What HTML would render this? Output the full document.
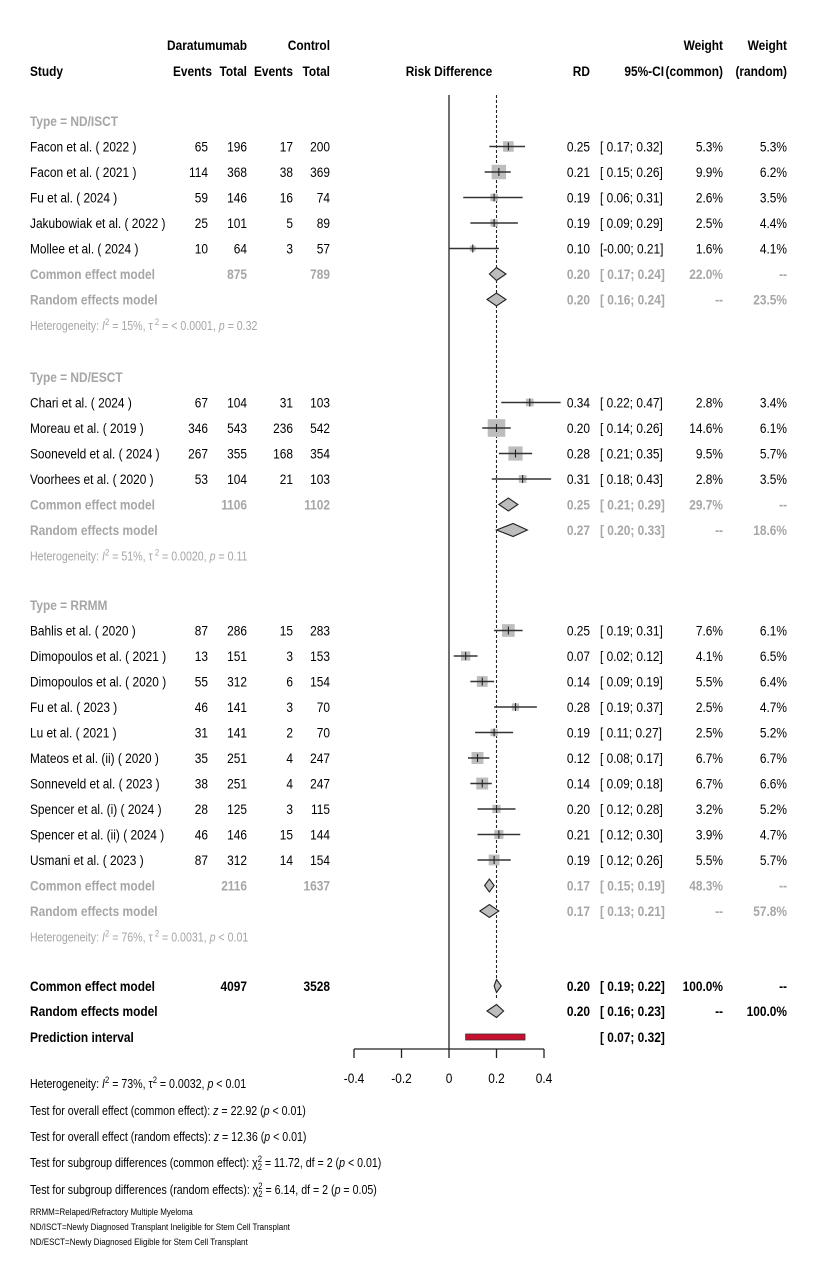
<!DOCTYPE html>
<html><head><meta charset="utf-8"><style>
html,body{margin:0;padding:0;background:#fff}
svg{display:block;font-family:"Liberation Sans",Arial,sans-serif}
</style></head><body>
<svg id="c" width="823" height="1263" xmlns="http://www.w3.org/2000/svg"></svg>
<script>
const studies = ["Facon et al. ( 2022 )","Facon et al. ( 2021 )","Fu et al. ( 2024 )","Jakubowiak et al. ( 2022 )","Mollee et al. ( 2024 )",
"Chari et al. ( 2024 )","Moreau et al. ( 2019 )","Sooneveld et al. ( 2024 )","Voorhees et al. ( 2020 )",
"Bahlis et al. ( 2020 )","Dimopoulos et al. ( 2021 )","Dimopoulos et al. ( 2020 )","Fu et al. ( 2023 )","Lu et al. ( 2021 )","Mateos et al. (ii) ( 2020 )","Sonneveld et al. ( 2023 )","Spencer et al. (i) ( 2024 )","Spencer et al. (ii) ( 2024 )","Usmani et al. ( 2023 )"];
const groupOf = [0,0,0,0,0,1,1,1,1,2,2,2,2,2,2,2,2,2,2];
const eventsT = [65,114,59,25,10,67,346,267,53,87,13,55,46,31,35,38,28,46,87];
const totalT = [196,368,146,101,64,104,543,355,104,286,151,312,141,141,251,251,125,146,312];
const eventsC = [17,38,16,5,3,31,236,168,21,15,3,6,3,2,4,4,3,15,14];
const totalC = [200,369,74,89,57,103,542,354,103,283,153,154,70,70,247,247,115,144,154];
const rd = [0.25,0.21,0.19,0.19,0.10,0.34,0.20,0.28,0.31,0.25,0.07,0.14,0.28,0.19,0.12,0.14,0.20,0.21,0.19];
const lo = [0.17,0.15,0.06,0.09,-0.00,0.22,0.14,0.21,0.18,0.19,0.02,0.09,0.19,0.11,0.08,0.09,0.12,0.12,0.12];
const hi = [0.32,0.26,0.31,0.29,0.21,0.47,0.26,0.35,0.43,0.31,0.12,0.19,0.37,0.27,0.17,0.18,0.28,0.30,0.26];
const wCommon = [5.3,9.9,2.6,2.5,1.6,2.8,14.6,9.5,2.8,7.6,4.1,5.5,2.5,2.5,6.7,6.7,3.2,3.9,5.5];
const wRandom = [5.3,6.2,3.5,4.4,4.1,3.4,6.1,5.7,3.5,6.1,6.5,6.4,4.7,5.2,6.7,6.6,5.2,4.7,5.7];
const groupNames = ["Type = ND/ISCT","Type = ND/ESCT","Type = RRMM"];
const grpTotT = [875,1106,2116];
const grpTotC = [789,1102,1637];
const grpCommon = [[0.20,0.17,0.24],[0.25,0.21,0.29],[0.17,0.15,0.19]];
const grpRandom = [[0.20,0.16,0.24],[0.27,0.20,0.33],[0.17,0.13,0.21]];
const grpWC = ["22.0%","29.7%","48.3%"];
const grpWR = ["23.5%","18.6%","57.8%"];
const grpHet = [["15%","< 0.0001","= 0.32"],["51%","0.0020","= 0.11"],["76%","0.0031","< 0.01"]];
const overallCommon = [0.20,0.19,0.22];
const overallRandom = [0.20,0.16,0.23];
const predInt = [0.07,0.32];
const ticks = [-0.4,-0.2,0,0.2,0.4];
const tickLabels = ["-0.4","-0.2","0","0.2","0.4"];

const svg = document.getElementById('c');
const NS = "http://www.w3.org/2000/svg";
const X0 = 449, SCALE = 237.5;
const xs = v => X0 + v*SCALE;
const SX = 0.85;
const C1=208, C2=247, C3=293, C4=330;
function el(tag, attrs, parent){const e=document.createElementNS(NS,tag);for(const k in attrs)e.setAttribute(k,attrs[k]);(parent||svg).appendChild(e);return e;}
function txt(s,x,y,opt){opt=opt||{};
  const t=el('text',{transform:`translate(${x},${y}) scale(${opt.sx||SX},1)`,'font-size':opt.fs||14,fill:opt.fill||'#000','text-anchor':opt.anchor||'start','font-weight':opt.bold?'bold':'normal'});
  t.textContent=s;
  
  
  return t;}
const f2 = v => (v<0||Object.is(v,-0)?'-':' ')+Math.abs(v).toFixed(2);
const ci = (a,b) => `[${f2(a)};${f2(b)}]`;

txt("Daratumumab",C2,50,{bold:true,anchor:'end',name:'header-daratumumab'});
txt("Control",C4,50,{bold:true,anchor:'end',name:'header-control'});
txt("Weight",723,50,{bold:true,anchor:'end',name:'header-weight-common'});
txt("Weight",787,50,{bold:true,anchor:'end',name:'header-weight-random'});
txt("Study",30,76,{bold:true,name:'header-study'});
txt("Events",212,76,{bold:true,anchor:'end',name:'header-events-t'});
txt("Total",C2,76,{bold:true,anchor:'end',name:'header-total-t'});
txt("Events",C3,76,{bold:true,anchor:'end',name:'header-events-c'});
txt("Total",C4,76,{bold:true,anchor:'end',name:'header-total-c'});
txt("Risk Difference",449,76,{bold:true,anchor:'middle',name:'header-risk-difference'});
txt("RD",590,76,{bold:true,anchor:'end',name:'header-rd'});
txt("95%-CI",664,76,{bold:true,anchor:'end',name:'header-ci'});
txt("(common)",723,76,{bold:true,anchor:'end',name:'header-common'});
txt("(random)",787,76,{bold:true,anchor:'end',name:'header-random'});

const zl = el('line',{x1:X0,x2:X0,y1:95,y2:1049,stroke:'#222','stroke-width':1.3});


const dl = el('line',{x1:xs(overallCommon[0]),x2:xs(overallCommon[0]),y1:95,y2:1000,stroke:'#222','stroke-width':1.1,'stroke-dasharray':'3,2'});



const GRAY='#a6a6a6';
function diamond(c,l,h,y,name){
  const p=el('polygon',{points:`${xs(l)},${y} ${xs(c)},${y-6.5} ${xs(h)},${y} ${xs(c)},${y+6.5}`,fill:'#bdbdbd',stroke:'#222','stroke-width':1.1});
  
  
}
const RH=25.5;
const groupStart=[121,377,605];
let si=0;
for(let g=0;g<3;g++){
  let y=groupStart[g];
  txt(groupNames[g],30,y+5,{fill:GRAY,bold:true,name:'group-title'});
  y+=RH;
  while(si<studies.length && groupOf[si]===g){
    const i=si;
    txt(studies[i],30,y+5,{name:'study-name'});
    txt(String(eventsT[i]),C1,y+5,{anchor:'end',name:'events-t'});
    txt(String(totalT[i]),C2,y+5,{anchor:'end',name:'total-t'});
    txt(String(eventsC[i]),C3,y+5,{anchor:'end',name:'events-c'});
    txt(String(totalC[i]),C4,y+5,{anchor:'end',name:'total-c'});
    const s=4.6*Math.sqrt(wCommon[i]);
    const b=el('rect',{x:xs(rd[i])-s/2,y:y-s/2,width:s,height:s,fill:'#bdbdbd'});
    
    
    const ln=el('line',{x1:xs(lo[i]),x2:xs(hi[i]),y1:y,y2:y,stroke:'#333','stroke-width':1.5});
    
    
    const tk=el('line',{x1:xs(rd[i]),x2:xs(rd[i]),y1:y-4,y2:y+4,stroke:'#222','stroke-width':1.1});
    
    
    txt(rd[i].toFixed(2),590,y+5,{anchor:'end',name:'rd-value'});
    txt(ci(lo[i],hi[i]),600,y+5,{name:'ci-value'});
    txt(wCommon[i].toFixed(1)+'%',723,y+5,{anchor:'end',name:'weight-common'});
    txt(wRandom[i].toFixed(1)+'%',787,y+5,{anchor:'end',name:'weight-random'});
    si++; y+=RH;
  }
  txt("Common effect model",30,y+5,{fill:GRAY,bold:true,name:'group-common-label'});
  txt(String(grpTotT[g]),C2,y+5,{fill:GRAY,bold:true,anchor:'end',name:'group-total-t'});
  txt(String(grpTotC[g]),C4,y+5,{fill:GRAY,bold:true,anchor:'end',name:'group-total-c'});
  diamond(...grpCommon[g],y,'group-common-diamond');
  txt(grpCommon[g][0].toFixed(2),590,y+5,{fill:GRAY,bold:true,anchor:'end',name:'group-common-rd'});
  txt(ci(grpCommon[g][1],grpCommon[g][2]),600,y+5,{fill:GRAY,bold:true,name:'group-common-ci'});
  txt(grpWC[g],723,y+5,{fill:GRAY,bold:true,anchor:'end',name:'group-common-weight'});
  txt("--",787,y+5,{fill:GRAY,bold:true,anchor:'end',name:'group-common-weight-r'});
  y+=RH;
  txt("Random effects model",30,y+5,{fill:GRAY,bold:true,name:'group-random-label'});
  diamond(...grpRandom[g],y,'group-random-diamond');
  txt(grpRandom[g][0].toFixed(2),590,y+5,{fill:GRAY,bold:true,anchor:'end',name:'group-random-rd'});
  txt(ci(grpRandom[g][1],grpRandom[g][2]),600,y+5,{fill:GRAY,bold:true,name:'group-random-ci'});
  txt("--",723,y+5,{fill:GRAY,bold:true,anchor:'end',name:'group-random-weight-c'});
  txt(grpWR[g],787,y+5,{fill:GRAY,bold:true,anchor:'end',name:'group-random-weight'});
  y+=RH;
  const h=txt("",30,y+5,{fill:GRAY,fs:12.5,name:'group-heterogeneity'});
  h.innerHTML=`Heterogeneity: <tspan font-style="italic">I</tspan><tspan dy="-5" font-size="9">2</tspan><tspan dy="5"> = ${grpHet[g][0]}, τ</tspan><tspan dy="-5" font-size="9"> 2</tspan><tspan dy="5"> = ${grpHet[g][1]}, </tspan><tspan font-style="italic">p</tspan> ${grpHet[g][2]}`;
}

let y=986;
txt("Common effect model",30,y+5,{bold:true,name:'overall-common-label'});
txt("4097",C2,y+5,{bold:true,anchor:'end',name:'overall-total-t'});
txt("3528",C4,y+5,{bold:true,anchor:'end',name:'overall-total-c'});
diamond(...overallCommon,y,'overall-common-diamond');
txt(overallCommon[0].toFixed(2),590,y+5,{bold:true,anchor:'end',name:'overall-common-rd'});
txt(ci(overallCommon[1],overallCommon[2]),600,y+5,{bold:true,name:'overall-common-ci'});
txt("100.0%",723,y+5,{bold:true,anchor:'end',name:'overall-common-weight'});
txt("--",787,y+5,{bold:true,anchor:'end',name:'overall-common-weight-r'});
y=1011;
txt("Random effects model",30,y+5,{bold:true,name:'overall-random-label'});
diamond(...overallRandom,y,'overall-random-diamond');
txt(overallRandom[0].toFixed(2),590,y+5,{bold:true,anchor:'end',name:'overall-random-rd'});
txt(ci(overallRandom[1],overallRandom[2]),600,y+5,{bold:true,name:'overall-random-ci'});
txt("--",723,y+5,{bold:true,anchor:'end',name:'overall-random-weight-c'});
txt("100.0%",787,y+5,{bold:true,anchor:'end',name:'overall-random-weight'});
y=1037;
txt("Prediction interval",30,y+5,{bold:true,name:'prediction-label'});
const pr=el('rect',{x:xs(predInt[0]),y:y-3,width:xs(predInt[1])-xs(predInt[0]),height:6,fill:'#c8102e',stroke:'#333','stroke-width':0.8});


txt(ci(predInt[0],predInt[1]),600,y+5,{bold:true,name:'prediction-ci'});

const ax=el('line',{x1:xs(ticks[0]),x2:xs(ticks[ticks.length-1]),y1:1049,y2:1049,stroke:'#222','stroke-width':1.3});


ticks.forEach((t,i)=>{
  const l=el('line',{x1:xs(t),x2:xs(t),y1:1049,y2:1058,stroke:'#222','stroke-width':1.3});
  
  
  txt(tickLabels[i],xs(t),1083,{anchor:'middle',name:'x-tick-label'});
});

function rich(html,y,fs,name){const t=txt("",30,y,{fs:fs,name:name});t.innerHTML=html;}
rich(`Heterogeneity: <tspan font-style="italic">I</tspan><tspan dy="-5" font-size="9">2</tspan><tspan dy="5"> = 73%, τ</tspan><tspan dy="-5" font-size="9">2</tspan><tspan dy="5"> = 0.0032, </tspan><tspan font-style="italic">p</tspan> &lt; 0.01`,1088,12.5,'overall-heterogeneity');
rich(`Test for overall effect (common effect): <tspan font-style="italic">z</tspan> = 22.92 (<tspan font-style="italic">p</tspan> &lt; 0.01)`,1115,12.5,'test-overall-common');
rich(`Test for overall effect (random effects): <tspan font-style="italic">z</tspan> = 12.36 (<tspan font-style="italic">p</tspan> &lt; 0.01)`,1141,12.5,'test-overall-random');
rich(`Test for subgroup differences (common effect): χ<tspan dy="-5" font-size="9">2</tspan><tspan dy="8" dx="-5" font-size="9">2</tspan><tspan dy="-3"> = 11.72, df = 2 (</tspan><tspan font-style="italic">p</tspan> &lt; 0.01)`,1167,12.5,'test-subgroup-common');
rich(`Test for subgroup differences (random effects): χ<tspan dy="-5" font-size="9">2</tspan><tspan dy="8" dx="-5" font-size="9">2</tspan><tspan dy="-3"> = 6.14, df = 2 (</tspan><tspan font-style="italic">p</tspan> = 0.05)`,1194,12.5,'test-subgroup-random');
txt("RRMM=Relaped/Refractory Multiple Myeloma",30,1215,{fs:9.4,name:'footnote-rrmm'});
txt("ND/ISCT=Newly Diagnosed Transplant Ineligible for Stem Cell Transplant",30,1230,{fs:9.4,name:'footnote-ndisct'});
txt("ND/ESCT=Newly Diagnosed Eligible for Stem Cell Transplant",30,1245,{fs:9.4,name:'footnote-ndesct'});
</script>
</body></html>
